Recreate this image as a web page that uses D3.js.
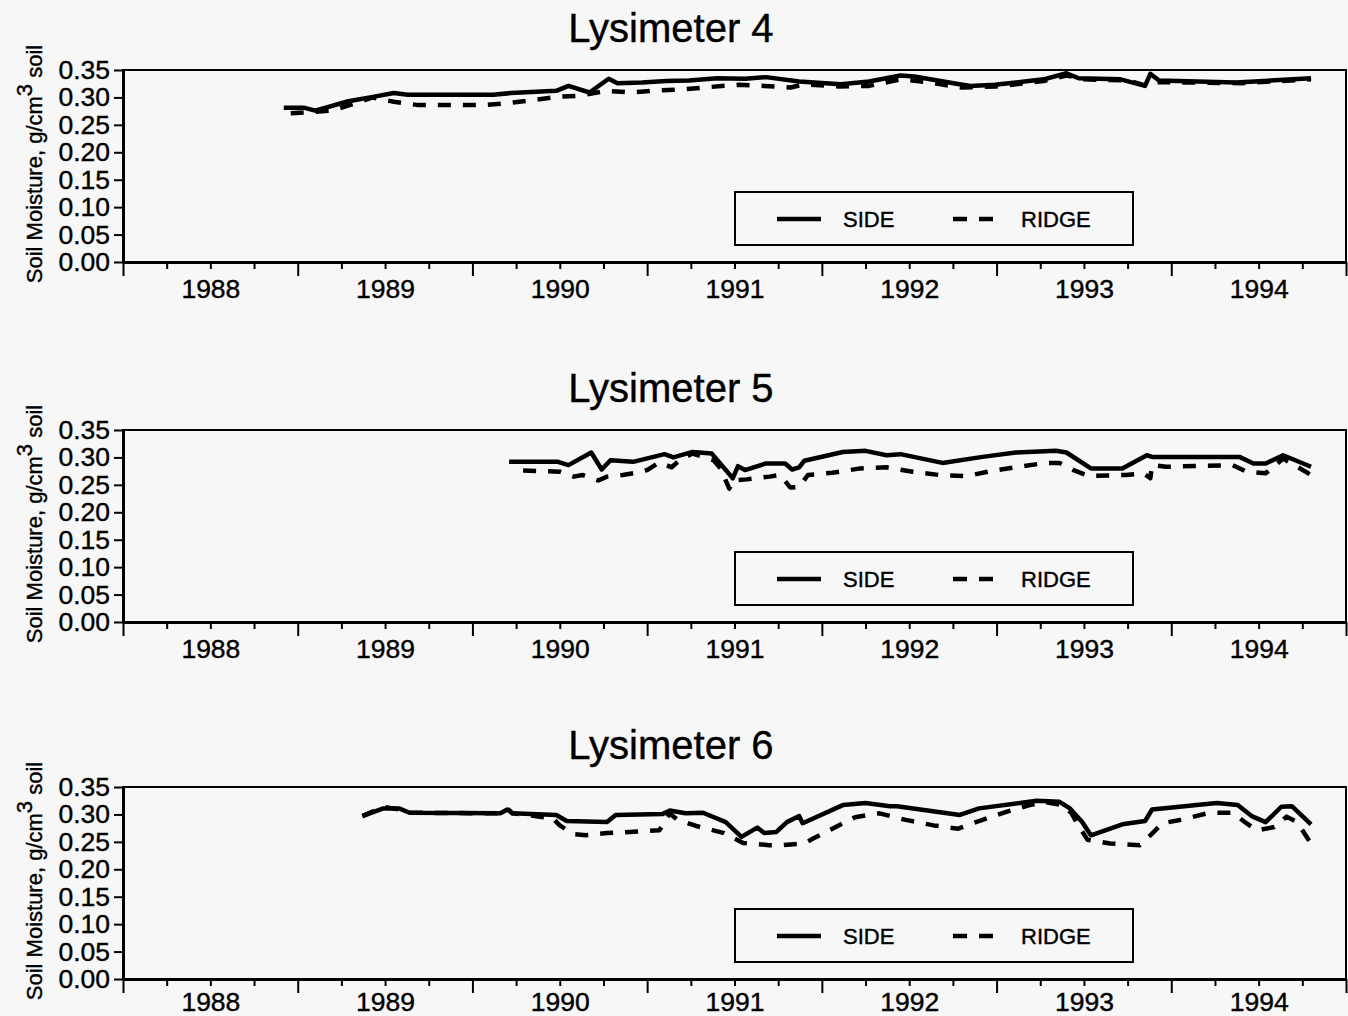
<!DOCTYPE html>
<html>
<head>
<meta charset="utf-8">
<script src="https://cdn.jsdelivr.net/npm/d3@7"></script>
<style>
  html, body { margin: 0; padding: 0; background: #f7f7f7; }
  svg { display: block; font-family: "Liberation Sans", Arial, sans-serif; }
  text { stroke: #000; stroke-width: 0.4px; }
</style>
</head>
<body>
<svg id="chart" width="1348" height="1016"></svg>
<script>
// ---- Data (decimal year, soil moisture g/cm3) ----
const panelTitles = ["Lysimeter 4", "Lysimeter 5", "Lysimeter 6"];
const yearLabels = ["1988", "1989", "1990", "1991", "1992", "1993", "1994"];
const yTickValues = [0.00, 0.05, 0.10, 0.15, 0.20, 0.25, 0.30, 0.35];
const seriesNames = ["SIDE", "RIDGE"];

const lys4Side = [[1988.92,0.281],[1989.04,0.281],[1989.10,0.276],[1989.29,0.293],[1989.43,0.301],[1989.55,0.308],[1989.63,0.305],[1990.12,0.305],[1990.22,0.308],[1990.48,0.312],[1990.55,0.321],[1990.67,0.309],[1990.78,0.334],[1990.83,0.326],[1990.97,0.327],[1991.11,0.330],[1991.24,0.331],[1991.40,0.335],[1991.56,0.334],[1991.68,0.337],[1991.87,0.329],[1992.11,0.324],[1992.27,0.329],[1992.45,0.340],[1992.53,0.338],[1992.77,0.325],[1992.85,0.321],[1992.99,0.323],[1993.27,0.333],[1993.40,0.344],[1993.47,0.335],[1993.71,0.333],[1993.85,0.321],[1993.88,0.343],[1993.93,0.331],[1994.37,0.327],[1994.53,0.330],[1994.80,0.335]];
const lys4Ridge = [[1988.96,0.271],[1989.20,0.276],[1989.43,0.300],[1989.55,0.292],[1989.69,0.286],[1990.06,0.286],[1990.18,0.289],[1990.34,0.295],[1990.48,0.301],[1990.61,0.303],[1990.77,0.312],[1990.91,0.309],[1991.07,0.313],[1991.22,0.315],[1991.36,0.319],[1991.52,0.323],[1991.67,0.321],[1991.82,0.318],[1991.90,0.324],[1992.10,0.320],[1992.27,0.321],[1992.45,0.333],[1992.60,0.328],[1992.80,0.318],[1993.00,0.320],[1993.27,0.330],[1993.40,0.340],[1993.50,0.333],[1993.75,0.331],[1993.85,0.322],[1993.93,0.328],[1994.40,0.326],[1994.80,0.333]];

const lys5Side = [[1990.21,0.292],[1990.49,0.292],[1990.55,0.286],[1990.68,0.309],[1990.74,0.278],[1990.79,0.295],[1990.92,0.292],[1991.10,0.306],[1991.15,0.300],[1991.26,0.310],[1991.37,0.307],[1991.45,0.277],[1991.49,0.262],[1991.52,0.284],[1991.56,0.277],[1991.68,0.289],[1991.79,0.289],[1991.83,0.278],[1991.87,0.282],[1991.90,0.294],[1992.12,0.310],[1992.25,0.312],[1992.37,0.304],[1992.45,0.306],[1992.69,0.290],[1992.92,0.301],[1993.11,0.309],[1993.34,0.312],[1993.40,0.309],[1993.54,0.280],[1993.72,0.280],[1993.86,0.304],[1993.89,0.301],[1994.39,0.301],[1994.47,0.289],[1994.54,0.289],[1994.64,0.304],[1994.80,0.283]];
const lys5Ridge = [[1990.29,0.276],[1990.50,0.274],[1990.58,0.265],[1990.63,0.268],[1990.72,0.258],[1990.77,0.265],[1990.86,0.268],[1990.92,0.271],[1991.00,0.277],[1991.07,0.291],[1991.14,0.282],[1991.19,0.296],[1991.26,0.307],[1991.38,0.295],[1991.42,0.280],[1991.47,0.243],[1991.49,0.258],[1991.57,0.260],[1991.70,0.265],[1991.76,0.268],[1991.82,0.245],[1991.87,0.246],[1991.92,0.268],[1992.06,0.272],[1992.22,0.280],[1992.37,0.282],[1992.52,0.274],[1992.67,0.268],[1992.83,0.266],[1992.98,0.276],[1993.13,0.283],[1993.28,0.290],[1993.36,0.290],[1993.44,0.277],[1993.53,0.266],[1993.74,0.268],[1993.84,0.271],[1993.88,0.262],[1993.89,0.286],[1993.97,0.283],[1994.35,0.286],[1994.43,0.274],[1994.54,0.271],[1994.64,0.298],[1994.80,0.268]];

const lys6Side = [[1989.37,0.297],[1989.49,0.311],[1989.58,0.311],[1989.64,0.303],[1990.16,0.302],[1990.20,0.309],[1990.23,0.302],[1990.48,0.299],[1990.54,0.288],[1990.77,0.286],[1990.82,0.299],[1991.09,0.301],[1991.13,0.307],[1991.22,0.302],[1991.32,0.303],[1991.45,0.286],[1991.54,0.259],[1991.63,0.276],[1991.67,0.266],[1991.74,0.268],[1991.80,0.286],[1991.87,0.297],[1991.89,0.284],[1992.12,0.317],[1992.25,0.321],[1992.39,0.315],[1992.43,0.315],[1992.79,0.299],[1992.90,0.311],[1993.23,0.325],[1993.36,0.323],[1993.42,0.311],[1993.49,0.286],[1993.54,0.262],[1993.72,0.282],[1993.85,0.288],[1993.89,0.309],[1994.26,0.321],[1994.38,0.317],[1994.46,0.297],[1994.54,0.286],[1994.63,0.314],[1994.69,0.315],[1994.80,0.282]];
const lys6Ridge = [[1989.37,0.297],[1989.49,0.314],[1989.58,0.309],[1989.64,0.303],[1990.16,0.302],[1990.20,0.311],[1990.23,0.302],[1990.46,0.293],[1990.50,0.280],[1990.58,0.264],[1990.65,0.262],[1990.77,0.266],[1990.90,0.268],[1991.07,0.271],[1991.13,0.302],[1991.17,0.291],[1991.28,0.279],[1991.44,0.266],[1991.55,0.248],[1991.70,0.244],[1991.76,0.244],[1991.90,0.247],[1991.95,0.256],[1992.06,0.274],[1992.19,0.295],[1992.33,0.302],[1992.48,0.290],[1992.64,0.280],[1992.78,0.274],[1992.90,0.288],[1993.06,0.305],[1993.19,0.317],[1993.27,0.323],[1993.38,0.317],[1993.43,0.302],[1993.46,0.284],[1993.52,0.254],[1993.65,0.247],[1993.82,0.244],[1993.89,0.265],[1993.95,0.284],[1994.05,0.290],[1994.22,0.303],[1994.35,0.303],[1994.43,0.284],[1994.49,0.271],[1994.59,0.277],[1994.66,0.296],[1994.72,0.286],[1994.80,0.247]];

const panelSeries = [[lys4Side, lys4Ridge], [lys5Side, lys5Ridge], [lys6Side, lys6Ridge]];

// ---- Layout ----
const svg = d3.select("#chart");
const left = 123, right = 1346;
const panelTops = [70, 430, 787];
const labelPads = [17, 17, 13];
const panelHeight = 192;
const dash = "13,12";
const FONT = "Liberation Sans, Arial, sans-serif";

const x = d3.scaleLinear().domain([1988, 1995]).range([left, right]);
const quarterTicks = d3.range(1988, 1995.001, 0.25);
const labelPos = yearLabels.map((d, i) => 1988.5 + i);

panelTitles.forEach((title, p) => {
  const top = panelTops[p], bottom = top + panelHeight;
  const y = d3.scaleLinear().domain([0, 0.35]).range([bottom, top]);
  const g = svg.append("g");

  // title
  g.append("text").attr("x", 671).attr("y", top - 28)
    .attr("text-anchor", "middle").attr("font-size", 40).attr("fill", "#000")
    .text(title);

  // frame
  g.append("rect").attr("x", left).attr("y", top)
    .attr("width", right - left).attr("height", bottom - top)
    .attr("fill", "none").attr("stroke", "#000").attr("stroke-width", 2);

  // y axis
  const ya = g.append("g").attr("transform", `translate(${left},0)`)
    .call(d3.axisLeft(y).tickValues(yTickValues).tickFormat(d3.format(".2f"))
      .tickSize(9).tickPadding(4).tickSizeOuter(0));
  ya.select(".domain").attr("stroke-width", 3);
  ya.selectAll(".tick line").attr("stroke-width", 2);
  ya.selectAll(".tick text").attr("font-size", 26.5).attr("font-family", FONT).attr("fill", "#000");

  // x axis ticks
  const xa = g.append("g").attr("transform", `translate(0,${bottom})`)
    .call(d3.axisBottom(x).tickValues(quarterTicks).tickFormat("").tickSizeOuter(0));
  xa.select(".domain").attr("stroke-width", 3);
  xa.selectAll(".tick line").attr("stroke-width", 2)
    .attr("y2", d => Math.abs(d - Math.round(d)) < 1e-6 ? 14 : 7);

  // x year labels
  const xl = g.append("g").attr("transform", `translate(0,${bottom})`)
    .call(d3.axisBottom(x).tickValues(labelPos).tickFormat((d, i) => yearLabels[i])
      .tickSize(0).tickPadding(labelPads[p]));
  xl.select(".domain").remove();
  xl.selectAll(".tick text").attr("font-size", 26.5).attr("font-family", FONT).attr("fill", "#000");

  // y label
  const yl = g.append("text")
    .attr("transform", `translate(42,${(top + bottom) / 2 - 2}) rotate(-90)`)
    .attr("text-anchor", "middle").attr("font-size", 22).attr("fill", "#000");
  yl.append("tspan").text("Soil Moisture, g/cm");
  yl.append("tspan").attr("dy", -10).text("3");
  yl.append("tspan").attr("dy", 10).text(" soil");

  // lines
  const line = d3.line().x(d => x(d[0])).y(d => y(d[1]));
  const [side, ridge] = panelSeries[p];
  g.append("path").datum(ridge).attr("d", line)
    .attr("fill", "none").attr("stroke", "#000").attr("stroke-width", 4.5)
    .attr("stroke-dasharray", dash).attr("stroke-linejoin", "round");
  g.append("path").datum(side).attr("d", line)
    .attr("fill", "none").attr("stroke", "#000").attr("stroke-width", 4.5)
    .attr("stroke-linejoin", "round");

  // legend
  const lt = top + 122;
  const lg = g.append("g");
  lg.append("rect").attr("x", 735).attr("y", lt).attr("width", 398).attr("height", 53)
    .attr("fill", "none").attr("stroke", "#000").attr("stroke-width", 2);
  lg.append("line").attr("x1", 777).attr("x2", 821).attr("y1", lt + 27).attr("y2", lt + 27)
    .attr("stroke", "#000").attr("stroke-width", 4.5);
  lg.append("text").attr("x", 843).attr("y", lt + 35).attr("font-size", 22).attr("fill", "#000").text(seriesNames[0]);
  lg.append("line").attr("x1", 953).attr("x2", 994).attr("y1", lt + 27).attr("y2", lt + 27)
    .attr("stroke", "#000").attr("stroke-width", 4.5).attr("stroke-dasharray", "14,12");
  lg.append("text").attr("x", 1021).attr("y", lt + 35).attr("font-size", 22).attr("fill", "#000").text(seriesNames[1]);
});
</script>
</body>
</html>
